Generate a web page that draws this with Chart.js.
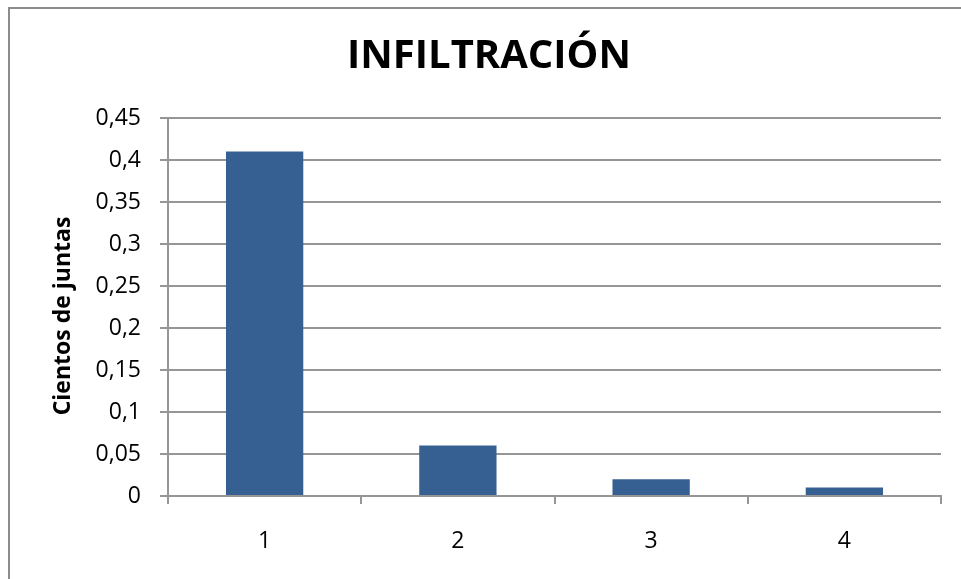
<!DOCTYPE html>
<html>
<head>
<meta charset="utf-8">
<script src="https://cdn.jsdelivr.net/npm/chart.js@4/dist/chart.umd.min.js"></script>
<style>
    html, body { margin: 0; padding: 0; background: #ffffff; overflow: hidden; }
    #frame {
        position: absolute; left: 8px; top: 7px;
        width: 2000px; height: 2000px;
        border: 2px solid #8c8c8c;
    }
    #wrap { position: absolute; left: 0; top: 0; width: 961px; height: 579px; }
</style>
</head>
<body>
<div id="frame"></div>
<div id="wrap"><canvas id="bar_chart_canvas" width="961" height="579"></canvas></div>
<script>
// Chart data
const categories = ['1', '2', '3', '4'];
const infiltration = [0.41, 0.06, 0.02, 0.01];
const chart_title = 'INFILTRACIÓN';
const y_axis_title = 'Cientos de juntas   ';

const bar_color = '#366092';
const grid_color = '#969696';

Chart.defaults.font.family = "'Open Sans', sans-serif";
Chart.defaults.color = '#000000';

let context = document.getElementById('bar_chart_canvas').getContext('2d');

let bar_chart = new Chart(context, {
    type: 'bar',
    data: {
        labels: categories,
        datasets: [{
            label: 'Infiltración',
            data: infiltration,
            backgroundColor: bar_color,
            borderWidth: 0,
            categoryPercentage: 1.0,
            barPercentage: 0.4
        }]
    },
    options: {
        responsive: false,
        animation: false,
        // left padding moves the title centre to the middle of the framed area
        layout: { padding: { left: 37, right: 20, top: 0, bottom: 0 } },
        plugins: {
            legend: { display: false },
            tooltip: { enabled: false },
            title: {
                display: true,
                text: chart_title,
                font: { size: 40, weight: 'bold' },
                padding: { top: 33, bottom: 37 }
            }
        },
        scales: {
            x: {
                grid: {
                    offset: true,
                    drawOnChartArea: false,
                    drawTicks: true,
                    tickLength: 8,
                    color: grid_color,
                    lineWidth: 2
                },
                border: { color: grid_color, width: 2 },
                ticks: { font: { size: 23 }, padding: 24 },
                afterFit: function (scale) { scale.height = 83; }
            },
            y: {
                min: 0,
                max: 0.45,
                ticks: {
                    stepSize: 0.05,
                    font: { size: 23 },
                    padding: 19,
                    callback: function (value) {
                        return String(Math.round(value * 100) / 100).replace('.', ',');
                    }
                },
                grid: { color: grid_color, lineWidth: 2, tickLength: 8 },
                border: { color: grid_color, width: 2 },
                title: {
                    display: true,
                    text: y_axis_title,
                    font: { size: 23, weight: 'bold' },
                    padding: { top: 13, bottom: 0 }
                },
                afterFit: function (scale) { scale.width = 131; }
            }
        }
    }
});
</script>
</body>
</html>
